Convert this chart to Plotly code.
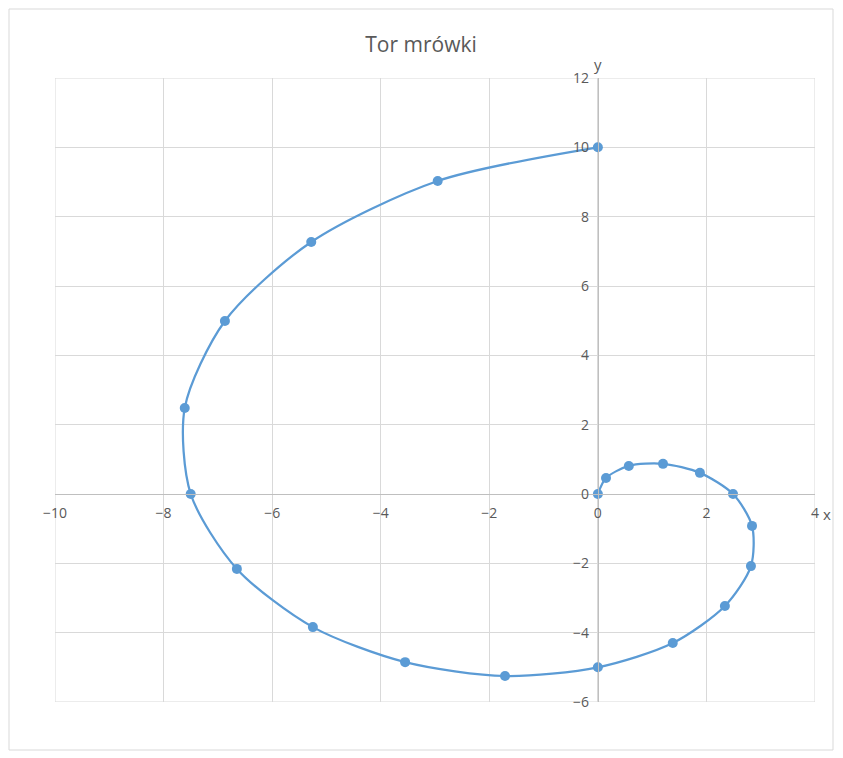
import plotly.graph_objects as go

# punkty
x_vals = [0, -2.95, -5.28, -6.87, -7.61, -7.50, -6.65, -5.25, -3.55, -1.71, 0,
          1.38, 2.34, 2.82, 2.84, 2.49, 1.88, 1.20, 0.57, 0.15, 0]
y_vals = [10, 9.03, 7.27, 4.99, 2.48, 0, -2.16, -3.84, -4.85, -5.25, -5.0,
          -4.3, -3.23, -2.08, -0.92, 0, 0.61, 0.87, 0.81, 0.46, 0]

grey = "#595959"
fig = go.Figure(go.Scatter(
    x=x_vals, y=y_vals, mode="lines+markers",
    line=dict(color="#5B9BD5", width=2.25, shape="spline", smoothing=0.8),
    marker=dict(color="#5B9BD5", size=10),
))

fig.update_layout(
    width=843, height=758,
    margin=dict(l=47, r=36, t=70, b=64),
    paper_bgcolor="white", plot_bgcolor="white",
    showlegend=False,
    title=dict(text="Tor mrówki", x=0.49, y=0.962, xanchor="center",
               font=dict(family="Open Sans, Liberation Sans, sans-serif", size=21, color=grey)),
    font=dict(family="Open Sans, Liberation Sans, sans-serif", size=14, color=grey),
    xaxis=dict(range=[-10, 4], dtick=2, showgrid=True, gridcolor="#d9d9d9",
               zeroline=False, showline=True, linecolor="#bfbfbf",
               anchor="free", position=6 / 18, ticks="outside", ticklen=6,
               tickcolor="rgba(0,0,0,0)"),
    yaxis=dict(range=[-6, 12], dtick=2, showgrid=True, gridcolor="#d9d9d9",
               zeroline=False, showline=True, linecolor="#bfbfbf",
               anchor="free", position=10 / 14, ticks="outside", ticklen=6,
               tickcolor="rgba(0,0,0,0)"),
    shapes=[
        dict(type="rect", xref="x", yref="y", x0=-10, x1=4, y0=-6, y1=12,
             line=dict(color="#d9d9d9", width=1), layer="below"),
        dict(type="rect", xref="paper", yref="paper", x0=-46 / 760, x1=1 + 18 / 760,
             y0=-48 / 624, y1=1 + 69 / 624, line=dict(color="#d9d9d9", width=1)),
    ],
    annotations=[
        dict(text="y", x=0, y=12, xref="x", yref="y", yshift=14, showarrow=False,
             font=dict(size=15, color=grey)),
        dict(text="x", x=4, y=0, xref="x", yref="y", xshift=12, yshift=-20, showarrow=False,
             font=dict(size=15, color=grey)),
    ],
)

fig.write_html("out.html")
